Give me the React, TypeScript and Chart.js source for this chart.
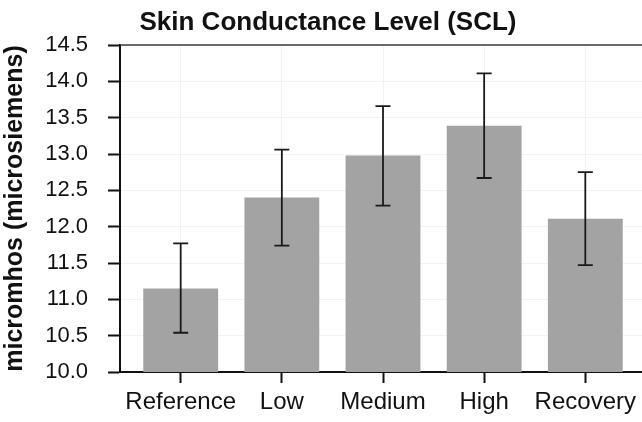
import React, { useEffect, useRef } from 'react';
import { Chart, registerables } from 'chart.js';

Chart.register(...registerables);

const categories = ['Reference', 'Low', 'Medium', 'High', 'Recovery'];
const means = [11.15, 12.4, 12.98, 13.39, 12.11];
const errLow = [10.54, 11.74, 12.29, 12.67, 11.47];
const errHigh = [11.77, 13.06, 13.66, 14.11, 12.75];
const yMin = 10.0;
const yMax = 14.5;
const yStep = 0.5;
const titleText = 'Skin Conductance Level (SCL)';
const yAxisTitle = 'micromhos (microsiemens)';

const FONT = '"Liberation Sans", Arial, sans-serif';

const extrasPlugin = {
  id: 'extras',
  afterDatasetsDraw(chart: any) {
    const { ctx, chartArea, scales } = chart;
    const xs = scales.x;
    const ys = scales.y;
    ctx.save();
    ctx.strokeStyle = '#1a1a1a';
    ctx.lineWidth = 1.8;
    for (let i = 0; i < categories.length; i++) {
      const x = xs.getPixelForValue(i);
      const yh = ys.getPixelForValue(errHigh[i]);
      const yl = ys.getPixelForValue(errLow[i]);
      ctx.beginPath();
      ctx.moveTo(x, yh);
      ctx.lineTo(x, yl);
      ctx.moveTo(x - 7.5, yh);
      ctx.lineTo(x + 7.5, yh);
      ctx.moveTo(x - 7.5, yl);
      ctx.lineTo(x + 7.5, yl);
      ctx.stroke();
    }
    ctx.strokeStyle = '#3a3a3a';
    ctx.lineWidth = 1.5;
    ctx.beginPath();
    ctx.moveTo(chartArea.left, chartArea.top);
    ctx.lineTo(chartArea.right, chartArea.top);
    ctx.stroke();
    ctx.restore();
  },
  afterDraw(chart: any) {
    const { ctx } = chart;
    ctx.save();
    ctx.fillStyle = '#111';
    ctx.font = `bold 26px ${FONT}`;
    ctx.textAlign = 'center';
    ctx.textBaseline = 'alphabetic';
    ctx.fillText(titleText, 328, 30);
    ctx.restore();
  },
};

export default function App() {
  const ref = useRef<HTMLCanvasElement>(null);
  useEffect(() => {
    document.body.style.margin = '0';
    const canvas = ref.current!;
    const chart = new Chart(canvas, {
      type: 'bar',
      data: {
        datasets: [
          {
            data: means.map((v, i) => ({ x: i, y: v })),
            backgroundColor: '#a3a3a3',
            borderWidth: 0,
            barPercentage: 0.74,
            categoryPercentage: 1,
          },
        ],
      },
      options: {
        animation: false,
        responsive: false,
        devicePixelRatio: 1,
        layout: { padding: { top: 45, right: 2, left: 0, bottom: 0 } },
        plugins: { legend: { display: false }, tooltip: { enabled: false }, title: { display: false } },
        scales: {
          x: {
            type: 'linear',
            min: -0.6,
            max: 4.6,
            offset: false,
            afterFit: (s: any) => {
              s.height = 50;
            },
            grid: { offset: false, color: '#f2f2f2', tickColor: '#111', tickLength: 11, tickWidth: 2 },
            border: { color: '#111', width: 2 },
            ticks: {
              stepSize: 1,
              includeBounds: false,
              autoSkip: false,
              maxRotation: 0,
              padding: 5,
              color: '#111',
              font: { family: FONT, size: 24 },
              callback: (v: any) => (categories[v as number] ?? ''),
            },
          },
          y: {
            min: yMin,
            max: yMax,
            afterFit: (s: any) => {
              s.width = 120;
            },
            grid: { color: '#f2f2f2', tickColor: '#111', tickLength: 12, tickWidth: 2 },
            border: { color: '#111', width: 2 },
            title: {
              display: true,
              text: yAxisTitle,
              color: '#111',
              font: { family: FONT, size: 25, weight: 'bold' },
              padding: { top: 0, bottom: 0 },
            },
            ticks: {
              stepSize: yStep,
              padding: 20,
              color: '#111',
              font: { family: FONT, size: 22 },
              callback: (v: any) => Number(v).toFixed(1),
            },
          },
        },
      },
      plugins: [extrasPlugin],
    });
    return () => chart.destroy();
  }, []);
  return (
    <div style={{ width: 642, height: 422, overflow: 'hidden', background: '#fff' }}>
      <canvas ref={ref} width={648} height={422} style={{ width: 648, height: 422, display: 'block' }} />
    </div>
  );
}
